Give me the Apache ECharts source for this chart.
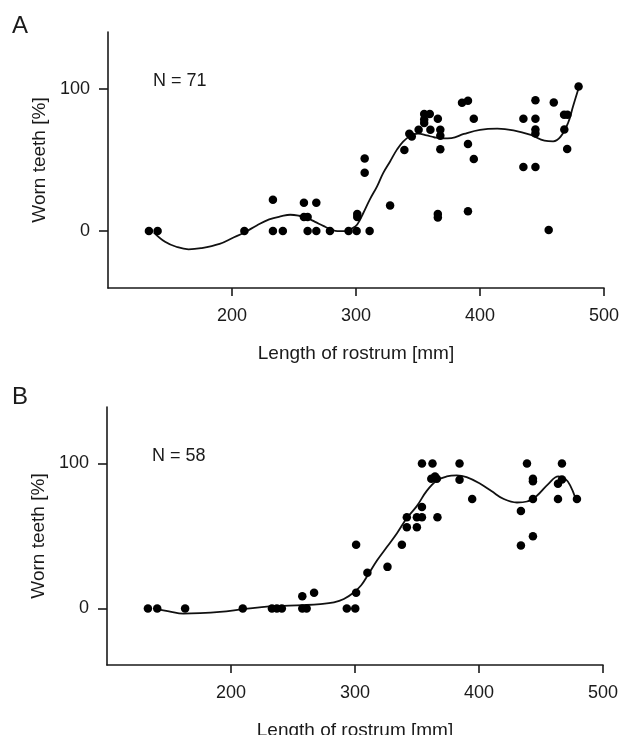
<!DOCTYPE html>
<html>
<head>
<meta charset="utf-8">
<script src="https://cdn.jsdelivr.net/npm/echarts@6/dist/echarts.min.js"></script>
<style>
html,body{margin:0;padding:0;background:#fff;}
#chart{width:629px;height:735px;}
</style>
</head>
<body>
<div id="chart"></div>
<script>
// ---- Panel A data (N = 71) ----
const lengthA = [133,140,210,233,233,241,258,268,258,261,261,268,279,294,300.5,301,301,307,307,311,327.5,339,343,345,350.5,355,359.5,355,355,360,366,368,368,368,366,366,385.5,390.3,395,390.3,395,390.3,435,444.7,444.7,444.7,444.7,435,444.7,455.4,459.5,467.8,470.5,468,470.3,479.5];
const wornA   = [0,0,0,22,0,0,20,20,10,10,0,0,0,0,0,12,10,51,41,0,18,57,68.5,66.6,71.3,82.3,82.3,78.5,76,71.3,79,71.3,67,57.5,12,9.5,90.2,91.7,79,61.2,50.7,14,79,79,92,71.5,68.7,45,45,0.7,90.5,81.8,81.8,71.5,57.7,101.6];
const curveAx = [137,146,155,165,175,190,200,210,220,230,240,247,254,260,267,274,280,285,292,296,301,306,311,317,322,327.5,333,338,344,350,357,363,370,377,387,400,414,427,441,452,459,465,471,475,479.5];
const curveAy = [-1,-7.5,-11,-12.8,-12,-9,-5,-1,4,8.2,10.5,11.5,10.8,9.4,6.5,3.5,1.2,0,0,1.5,4.7,12.9,22,31.5,41,49,57.3,63,67.1,68.5,67.3,66,65.2,65.4,68.3,71.2,72,70.8,67.6,63.6,63.1,66.4,76,87.6,100.5];

// ---- Panel B data (N = 58) ----
const lengthB = [133,140.5,163,209.5,233,237,241,257.5,257.5,261,267,293.4,300.2,300.9,300.9,310,326.2,337.8,341.8,349.9,341.8,349.9,354,354,366.5,354,362.5,361.5,364.5,366,384.3,384.3,394.5,433.8,433.8,438.7,443.5,443.5,443.5,443.5,463.7,466.9,463.7,466.9,479];
const wornB   = [0,0,0,0,0,0,0,8.5,0,0,10.8,0,0,10.8,44,24.7,28.7,44,56,56,63,63,63,70,63,100,100,89.5,91,89.5,100,88.8,75.5,67.3,43.4,100,89.5,87.8,75.5,49.8,75.5,100,86,89,75.5];
const curveBx = [140,150,161.5,175,191,210,231,258,272,283,291,299,305,310,318,326,334,342,350,358,366,374,382,390,401,410,420,430.6,438.7,446.7,456,464,469.6,473.6,477.6];
const curveBy = [-0.5,-2,-3.5,-3.2,-2.3,-0.5,1.4,2.3,3,4.2,6.5,11,16,22.5,33.4,42.7,52.1,62.6,70.8,81.3,88.3,91.1,91.8,90.6,86,81,75.5,73.1,73.8,77.8,86,91.1,89.4,84.8,76.6];

// ---- tick labels / texts ----
const xTicks = [200,300,400,500];
const yTicks = [0,100];
const xName = 'Length of rostrum [mm]';
const yName = 'Worn teeth [%]';
const panelLabels = ['A','B'];
const nLabels = ['N = 71','N = 58'];

const zip = (a,b) => a.map((v,i)=>[v,b[i]]);
const FONT = '"Liberation Sans", Arial, Helvetica, sans-serif';
const INK = '#1a1a1a';

function xAxisFor(gi){
  return {
    type:'value', gridIndex:gi, min:100, max:500, interval:100,
    name:xName, nameLocation:'middle', nameGap:56,
    nameTextStyle:{fontFamily:FONT,fontSize:19,color:INK},
    axisLine:{show:true,onZero:false,lineStyle:{color:INK,width:1.6}},
    axisTick:{show:true,inside:false,length:8,lineStyle:{color:INK,width:1.6},customValues:xTicks},
    axisLabel:{show:true,margin:19,fontFamily:FONT,fontSize:18,color:INK,customValues:xTicks},
    splitLine:{show:false}
  };
}
function yAxisFor(gi,mn,mx){
  return {
    type:'value', gridIndex:gi, min:mn, max:mx,
    name:yName, nameLocation:'middle', nameGap:52, nameRotate:90,
    nameTextStyle:{fontFamily:FONT,fontSize:19,color:INK},
    axisLine:{show:true,onZero:false,lineStyle:{color:INK,width:1.6}},
    axisTick:{show:true,inside:false,length:9,lineStyle:{color:INK,width:1.6},customValues:yTicks},
    axisLabel:{show:true,margin:18,fontFamily:FONT,fontSize:18,color:INK,customValues:yTicks},
    splitLine:{show:false}
  };
}

const chart = echarts.init(document.getElementById('chart'), null, {renderer:'canvas'});
const option = {
  animation:false,
  backgroundColor:'#ffffff',
  grid:[
    {left:108, right:25, top:32, bottom:447, containLabel:false, outerBoundsMode:'none'},
    {left:107, right:26, top:407, bottom:70, containLabel:false, outerBoundsMode:'none'}
  ],
  xAxis:[ xAxisFor(0), xAxisFor(1) ],
  yAxis:[ yAxisFor(0,-40,140), yAxisFor(1,-39,139) ],
  graphic:[
    {type:'text', left:12, top:14, style:{text:panelLabels[0], fontFamily:FONT, fontSize:24, fill:INK}},
    {type:'text', left:12, top:385, style:{text:panelLabels[1], fontFamily:FONT, fontSize:24, fill:INK}},
    {type:'text', left:153, top:72, style:{text:nLabels[0], fontFamily:FONT, fontSize:18, fill:INK}},
    {type:'text', left:152, top:447, style:{text:nLabels[1], fontFamily:FONT, fontSize:18, fill:INK}}
  ],
  series:[
    {type:'line', xAxisIndex:0, yAxisIndex:0, data:zip(curveAx,curveAy), smooth:0.4, showSymbol:false,
     lineStyle:{color:'#111',width:1.8}, z:2},
    {type:'scatter', xAxisIndex:0, yAxisIndex:0, data:zip(lengthA,wornA), symbol:'circle', symbolSize:8.5,
     itemStyle:{color:'#000',opacity:1}, z:3},
    {type:'line', xAxisIndex:1, yAxisIndex:1, data:zip(curveBx,curveBy), smooth:0.4, showSymbol:false,
     lineStyle:{color:'#111',width:1.8}, z:2},
    {type:'scatter', xAxisIndex:1, yAxisIndex:1, data:zip(lengthB,wornB), symbol:'circle', symbolSize:8.5,
     itemStyle:{color:'#000',opacity:1}, z:3}
  ]
};
chart.setOption(option);
</script>
</body>
</html>
